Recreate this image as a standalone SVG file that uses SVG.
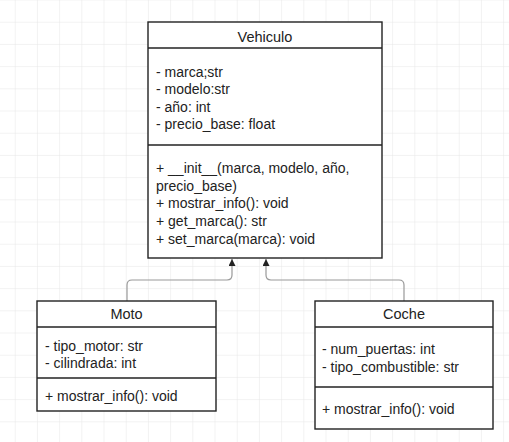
<svg xmlns="http://www.w3.org/2000/svg" width="509" height="442" viewBox="0 0 509 442">
<defs>
<pattern id="grid" x="-6.5" y="0.5" width="22.2" height="22.2" patternUnits="userSpaceOnUse">
<path d="M22.2 0 V22.2 M0 22.2 H22.2" fill="none" stroke="#e6e6e6" stroke-width="1"/>
</pattern>
<marker id="tri" viewBox="0 0 10 10" refX="10" refY="5" markerWidth="7" markerHeight="7" orient="auto" markerUnits="userSpaceOnUse">
<path d="M0 0 L10 5 L0 10 Z" fill="#222"/>
</marker>
<style>
.box{fill:#fff;stroke:#222;stroke-width:1.4}
.sep{stroke:#222;stroke-width:1.4}
.t{font-family:"Liberation Sans",Arial,sans-serif;font-size:14px;fill:#222}
.h{font-family:"Liberation Sans",Arial,sans-serif;font-size:14.5px;fill:#222;text-anchor:middle}
.c{fill:none;stroke:#999;stroke-width:1.2}
</style>
</defs>
<rect width="509" height="442" fill="#fff"/>
<rect width="509" height="442" fill="url(#grid)"/>
<g id="connectors">
<path class="c" d="M127 301 V285 Q127 280 132 280 H227 Q232 280 232 275 V259" marker-end="url(#tri)"/>
<path class="c" d="M404 301 V285 Q404 280 399 280 H271 Q266 280 266 275 V259" marker-end="url(#tri)"/>
</g>
<g id="Vehiculo">
<rect class="box" x="148" y="22" width="234" height="236"/>
<line class="sep" x1="148" y1="48" x2="382" y2="48"/>
<line class="sep" x1="148" y1="145" x2="382" y2="145"/>
<text class="h" x="265" y="42">Vehiculo</text>
<text class="t" x="156" y="76.5">- marca;str</text>
<text class="t" x="156" y="94">- modelo:str</text>
<text class="t" x="156" y="111.5">- año: int</text>
<text class="t" x="156" y="129">- precio_base: float</text>
<text class="t" x="156" y="172.5">+ __init__(marca, modelo, año,</text>
<text class="t" x="156" y="190.5">precio_base)</text>
<text class="t" x="156" y="208">+ mostrar_info(): void</text>
<text class="t" x="156" y="225.5">+ get_marca(): str</text>
<text class="t" x="156" y="243.5">+ set_marca(marca): void</text>
</g>
<g id="Moto">
<rect class="box" x="37" y="301" width="179" height="110"/>
<line class="sep" x1="37" y1="327" x2="216" y2="327"/>
<line class="sep" x1="37" y1="378" x2="216" y2="378"/>
<text class="h" x="126.5" y="319">Moto</text>
<text class="t" x="45" y="350.5">- tipo_motor: str</text>
<text class="t" x="45" y="368">- cilindrada: int</text>
<text class="t" x="45" y="400.5">+ mostrar_info(): void</text>
</g>
<g id="Coche">
<rect class="box" x="315" y="301" width="178" height="128"/>
<line class="sep" x1="315" y1="327" x2="493" y2="327"/>
<line class="sep" x1="315" y1="387" x2="493" y2="387"/>
<text class="h" x="404" y="319">Coche</text>
<text class="t" x="322" y="354">- num_puertas: int</text>
<text class="t" x="322" y="371.5">- tipo_combustible: str</text>
<text class="t" x="322" y="413.5">+ mostrar_info(): void</text>
</g>
</svg>
